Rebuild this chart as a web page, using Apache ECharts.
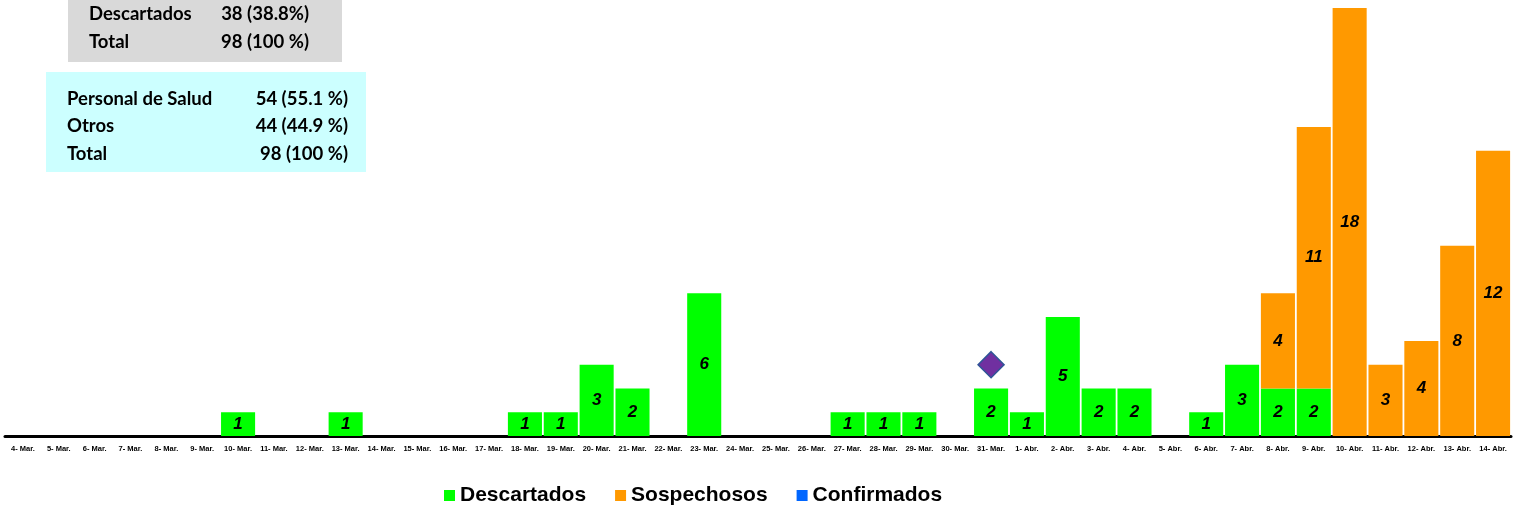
<!DOCTYPE html>
<html>
<head>
<meta charset="utf-8">
<script src="https://cdn.jsdelivr.net/npm/echarts@6/dist/echarts.min.js"></script>
<style>html,body{margin:0;padding:0;background:#fff}#c{width:1517px;height:506px}</style>
</head>
<body>
<div id="c"></div>
<script>
const categories = ['4- Mar.','5- Mar.','6- Mar.','7- Mar.','8- Mar.','9- Mar.','10- Mar.','11- Mar.','12- Mar.','13- Mar.','14- Mar.','15- Mar.','16- Mar.','17- Mar.','18- Mar.','19- Mar.','20- Mar.','21- Mar.','22- Mar.','23- Mar.','24- Mar.','25- Mar.','26- Mar.','27- Mar.','28- Mar.','29- Mar.','30- Mar.','31- Mar.','1- Abr.','2- Abr.','3- Abr.','4- Abr.','5- Abr.','6- Abr.','7- Abr.','8- Abr.','9- Abr.','10- Abr.','11- Abr.','12- Abr.','13- Abr.','14- Abr.'];
const descartados = [0,0,0,0,0,0,1,0,0,1,0,0,0,0,1,1,3,2,0,6,0,0,0,1,1,1,0,2,1,5,2,2,0,1,3,2,2,0,0,0,0,0];
const sospechosos = [0,0,0,0,0,0,0,0,0,0,0,0,0,0,0,0,0,0,0,0,0,0,0,0,0,0,0,0,0,0,0,0,0,0,0,4,11,18,3,4,8,12];
const confirmados = categories.map(() => 0);
const marcador = categories.map((c, i) => c === '31- Mar.' ? 3 : null);
const boxGris = [['Descartados','38 (38.8%)'],['Total','98 (100 %)']];
const boxCian = [['Personal de Salud','54 (55.1 %)'],['Otros','44 (44.9 %)'],['Total','98 (100 %)']];

const chart = echarts.init(document.getElementById('c'));
const lbl = {
  show: true, position: 'inside', color: '#000', fontSize: 17, fontWeight: 'bold',
  fontStyle: 'italic', fontFamily: 'Liberation Sans, Arial, sans-serif',
  formatter: p => (p.value ? p.value : '')
};
const txtStyle = {fill:'#000', font:'bold 18.5px Lato, "Open Sans", sans-serif'};
const graphics = [
  {type:'rect', shape:{x:68,y:0,width:274,height:62}, style:{fill:'#D9D9D9'}, z:0},
  {type:'rect', shape:{x:46,y:72,width:320,height:100}, style:{fill:'#CCFFFF'}, z:0}
];
boxGris.forEach((r, i) => {
  graphics.push({type:'text', x:89, y:14+i*28, style:Object.assign({text:r[0], textVerticalAlign:'middle'}, txtStyle), z:5});
  graphics.push({type:'text', x:309, y:14+i*28, style:Object.assign({text:r[1], textAlign:'right', textVerticalAlign:'middle'}, txtStyle), z:5});
});
boxCian.forEach((r, i) => {
  graphics.push({type:'text', x:67, y:99+i*27.5, style:Object.assign({text:r[0], textVerticalAlign:'middle'}, txtStyle), z:5});
  graphics.push({type:'text', x:348, y:99+i*27.5, style:Object.assign({text:r[1], textAlign:'right', textVerticalAlign:'middle'}, txtStyle), z:5});
});

chart.setOption({
  animation: false,
  grid: {left:5, right:6, top:8, bottom:70, containLabel:false},
  legend: {
    data: ['Descartados','Sospechosos','Confirmados'],
    top: 480, left: 439, itemWidth: 11, itemHeight: 11, itemGap: 29,
    icon: 'rect',
    textStyle: {fontSize: 21, fontWeight: 'bold', color:'#000', fontFamily:'Liberation Sans, Arial, sans-serif'}
  },
  xAxis: {
    type: 'category', data: categories,
    axisLine: {lineStyle:{color:'#000', width:3}},
    axisTick: {show:false},
    axisLabel: {interval:0, fontSize:7.5, fontWeight:'bold', color:'#000', fontFamily:'Liberation Sans, Arial, sans-serif', margin:9}
  },
  yAxis: {type:'value', min:0, max:18, show:false, splitLine:{show:false}},
  series: [
    {name:'Descartados', type:'bar', stack:'t', data:descartados, barCategoryGap:'5%', itemStyle:{color:'#00FF00'}, label:lbl},
    {name:'Sospechosos', type:'bar', stack:'t', data:sospechosos, itemStyle:{color:'#FF9900'}, label:lbl},
    {name:'Confirmados', type:'bar', stack:'t', data:confirmados, itemStyle:{color:'#0066FF'}, label:{show:false}},
    {name:'Marcador', type:'scatter', data:marcador, symbol:'diamond', symbolSize:[26,26], itemStyle:{color:'#7030A0', opacity:1, borderColor:'#2F5597', borderWidth:1.5}, z:10}
  ],
  graphic: graphics
});
</script>
</body>
</html>
